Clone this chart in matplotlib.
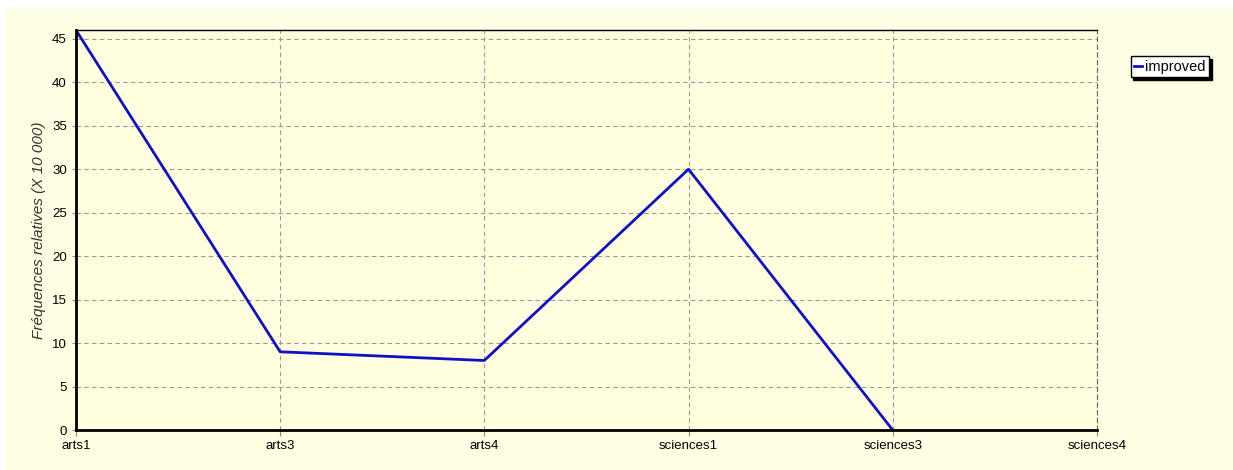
import numpy as np
import matplotlib
matplotlib.use("Agg")
import matplotlib.pyplot as plt
from matplotlib.patches import Rectangle

# donnees
categories = ['arts1', 'arts3', 'arts4', 'sciences1', 'sciences3', 'sciences4']
improved = [46, 9, 8, 30, 0, np.nan]
yticks = list(range(0, 50, 5))

plt.rcParams['font.family'] = ['Liberation Sans', 'DejaVu Sans']

fig = plt.figure(figsize=(12.33, 4.70), dpi=100)
fig.patch.set_facecolor('white')
# fond jaune avec petite marge blanche en haut et a gauche
fond = Rectangle((6 / 1233, -0.1), 1.1, 1.1 - 8 / 470, transform=fig.transFigure,
                 facecolor='#FFFFE3', edgecolor='none', zorder=-10)
fig.add_artist(fond)
ax = fig.add_axes([0.0616, 0.085, 0.828, 0.851])
ax.set_facecolor('#FFFFE0')

x = np.arange(len(categories))
ax.plot(x, improved, color='#1010C8', linewidth=2, label='improved')

ax.set_xlim(0, len(categories) - 1)
ax.set_ylim(0, 46)
ax.set_xticks(x)
ax.set_xticklabels(categories, fontsize=9.5)
ax.set_yticks(yticks)
ax.tick_params(axis='y', labelsize=9.5, length=3, color='#888888')
ax.tick_params(axis='x', length=4, color='#888888')
ax.set_ylabel('Fréquences relatives (X 10 000)', fontsize=11, style='italic', color='#333333')

ax.grid(True, linestyle=(0, (4, 3)), color='#999999', linewidth=0.8)

ax.spines['left'].set_linewidth(2)
ax.spines['bottom'].set_linewidth(2)
ax.spines['top'].set_linewidth(1)
ax.spines['right'].set_linestyle((0, (4, 3)))
ax.spines['right'].set_color('#666666')

leg = ax.legend(loc='upper left', bbox_to_anchor=(1.033, 0.935), fontsize=10.5,
                frameon=True, fancybox=False, shadow={'color': 'black', 'alpha': 1},
                handlelength=0.5, handletextpad=0.25, borderpad=0.25, borderaxespad=0)
leg.get_frame().set_edgecolor('black')
leg.get_frame().set_facecolor('white')
leg.get_frame().set_linewidth(1)

fig.savefig('out.png', dpi=100, facecolor=fig.get_facecolor())
